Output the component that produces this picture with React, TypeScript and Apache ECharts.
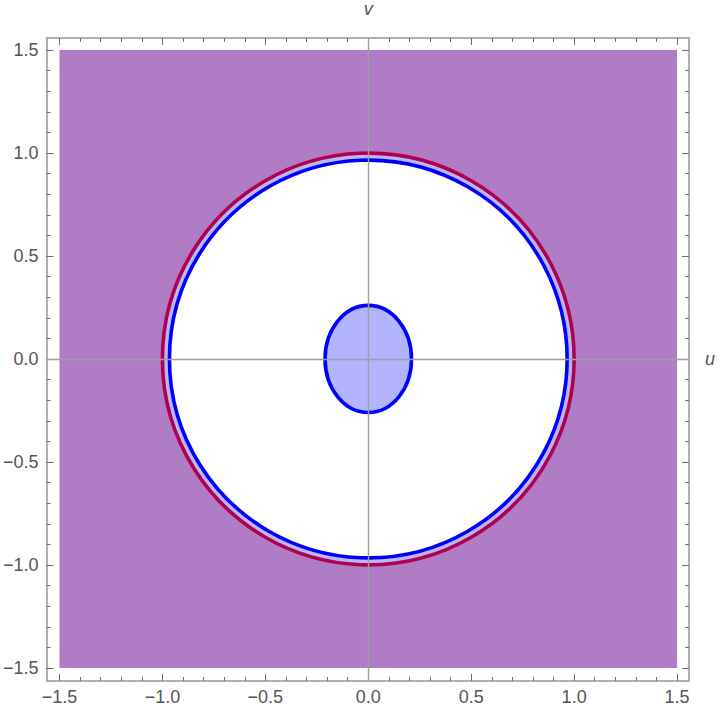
import React, { useEffect, useRef } from 'react';
import * as echarts from 'echarts';

const majorTicks = [-1.5, -1.0, -0.5, 0, 0.5, 1.0, 1.5];
const minorTicks = [-1.5, -1.4, -1.3, -1.2, -1.1, -1.0, -0.9, -0.8, -0.7, -0.6, -0.5, -0.4, -0.3, -0.2, -0.1, 0, 0.1, 0.2, 0.3, 0.4, 0.5, 0.6, 0.7, 0.8, 0.9, 1.0, 1.1, 1.2, 1.3, 1.4, 1.5];
const plotRange = [-1.5, 1.5];
const axisRange = [-1.563, 1.558];
const center = [0, 0];
const outerRadius = 1.0;
const innerRadius = 0.966;
const ellipseRadii = [0.21, 0.26];
const axisNames = ['u', 'v'];

const FRAME = '#ababab';
const TICK = '#6e6e6e';
const LABEL = '#555555';
const FONT = 'Liberation Sans, Arial, sans-serif';

const fmt = (v: number) => (v < 0 ? '\u2212' : '') + Math.abs(v).toFixed(1);

function frameAxis(pos: string, ticks: number[], len: number, labels: boolean, dim: 'x' | 'y') {
  return {
    type: 'value',
    position: pos,
    min: axisRange[0],
    max: axisRange[1],
    axisLine: { show: true, onZero: false, lineStyle: { color: FRAME, width: 1.5 } },
    axisTick: { show: true, inside: true, length: len, customValues: ticks, lineStyle: { color: TICK, width: 1 } },
    axisLabel: labels
      ? { show: true, customValues: ticks, formatter: fmt, color: LABEL, fontSize: 18, fontFamily: FONT, margin: dim === 'x' ? 7 : 8 }
      : { show: false },
    splitLine: { show: false },
  };
}

function zeroAxis(dim: 'x' | 'y') {
  return {
    type: 'value',
    position: dim === 'x' ? 'bottom' : 'left',
    min: axisRange[0],
    max: axisRange[1],
    z: 10,
    name: dim === 'x' ? axisNames[0] : axisNames[1],
    nameLocation: 'end',
    nameGap: dim === 'x' ? 16 : 20,
    nameTextStyle: { color: LABEL, fontSize: 18, fontStyle: 'italic', fontFamily: FONT },
    axisLine: { show: true, onZero: true, onZeroAxisIndex: 0, lineStyle: { color: '#a0a0a0', width: 1.4 } },
    axisTick: { show: false },
    axisLabel: { show: false },
    splitLine: { show: false },
  };
}

export default function App() {
  const ref = useRef<HTMLDivElement>(null);
  useEffect(() => {
    if (!ref.current) return;
    const chart = echarts.init(ref.current, null, { renderer: 'svg' });
    const option = {
      animation: false,
      grid: { left: 46, top: 38, width: 643, height: 643, containLabel: false },
      xAxis: [
        frameAxis('bottom', majorTicks, 7, true, 'x'),
        frameAxis('bottom', minorTicks, 4, false, 'x'),
        frameAxis('top', majorTicks, 7, false, 'x'),
        frameAxis('top', minorTicks, 4, false, 'x'),
        zeroAxis('x'),
      ],
      yAxis: [
        frameAxis('left', majorTicks, 7, true, 'y'),
        frameAxis('left', minorTicks, 4, false, 'y'),
        frameAxis('right', majorTicks, 7, false, 'y'),
        frameAxis('right', minorTicks, 4, false, 'y'),
        zeroAxis('y'),
      ],
      series: [
        {
          type: 'custom',
          xAxisIndex: 0,
          yAxisIndex: 0,
          silent: true,
          z: 2,
          data: [[center[0], center[1]]],
          renderItem: (params: any, api: any) => {
            const tl = api.coord([plotRange[0], plotRange[1]]);
            const br = api.coord([plotRange[1], plotRange[0]]);
            const c = api.coord([center[0], center[1]]);
            const unit = api.size([1, 1]);
            return {
              type: 'group',
              children: [
                {
                  type: 'rect',
                  shape: { x: tl[0], y: tl[1], width: br[0] - tl[0], height: br[1] - tl[1] },
                  style: { fill: '#b07cc6' },
                },
                {
                  type: 'circle',
                  shape: { cx: c[0], cy: c[1], r: outerRadius * unit[0] },
                  style: { fill: '#b8b8f8', stroke: '#b0004f', lineWidth: 3.6 },
                },
                {
                  type: 'circle',
                  shape: { cx: c[0], cy: c[1], r: innerRadius * unit[0] },
                  style: { fill: '#ffffff', stroke: '#0000ff', lineWidth: 3.6 },
                },
                {
                  type: 'ellipse',
                  shape: { cx: c[0], cy: c[1], rx: ellipseRadii[0] * unit[0], ry: ellipseRadii[1] * unit[1] },
                  style: { fill: '#b3b3ff', stroke: '#0000ff', lineWidth: 3.6 },
                },
              ],
            };
          },
        },
      ],
    };
    chart.setOption(option as any);
    return () => chart.dispose();
  }, []);
  return <div ref={ref} style={{ position: 'fixed', left: 0, top: 0, width: 720, height: 716, background: '#fff' }} />;
}
